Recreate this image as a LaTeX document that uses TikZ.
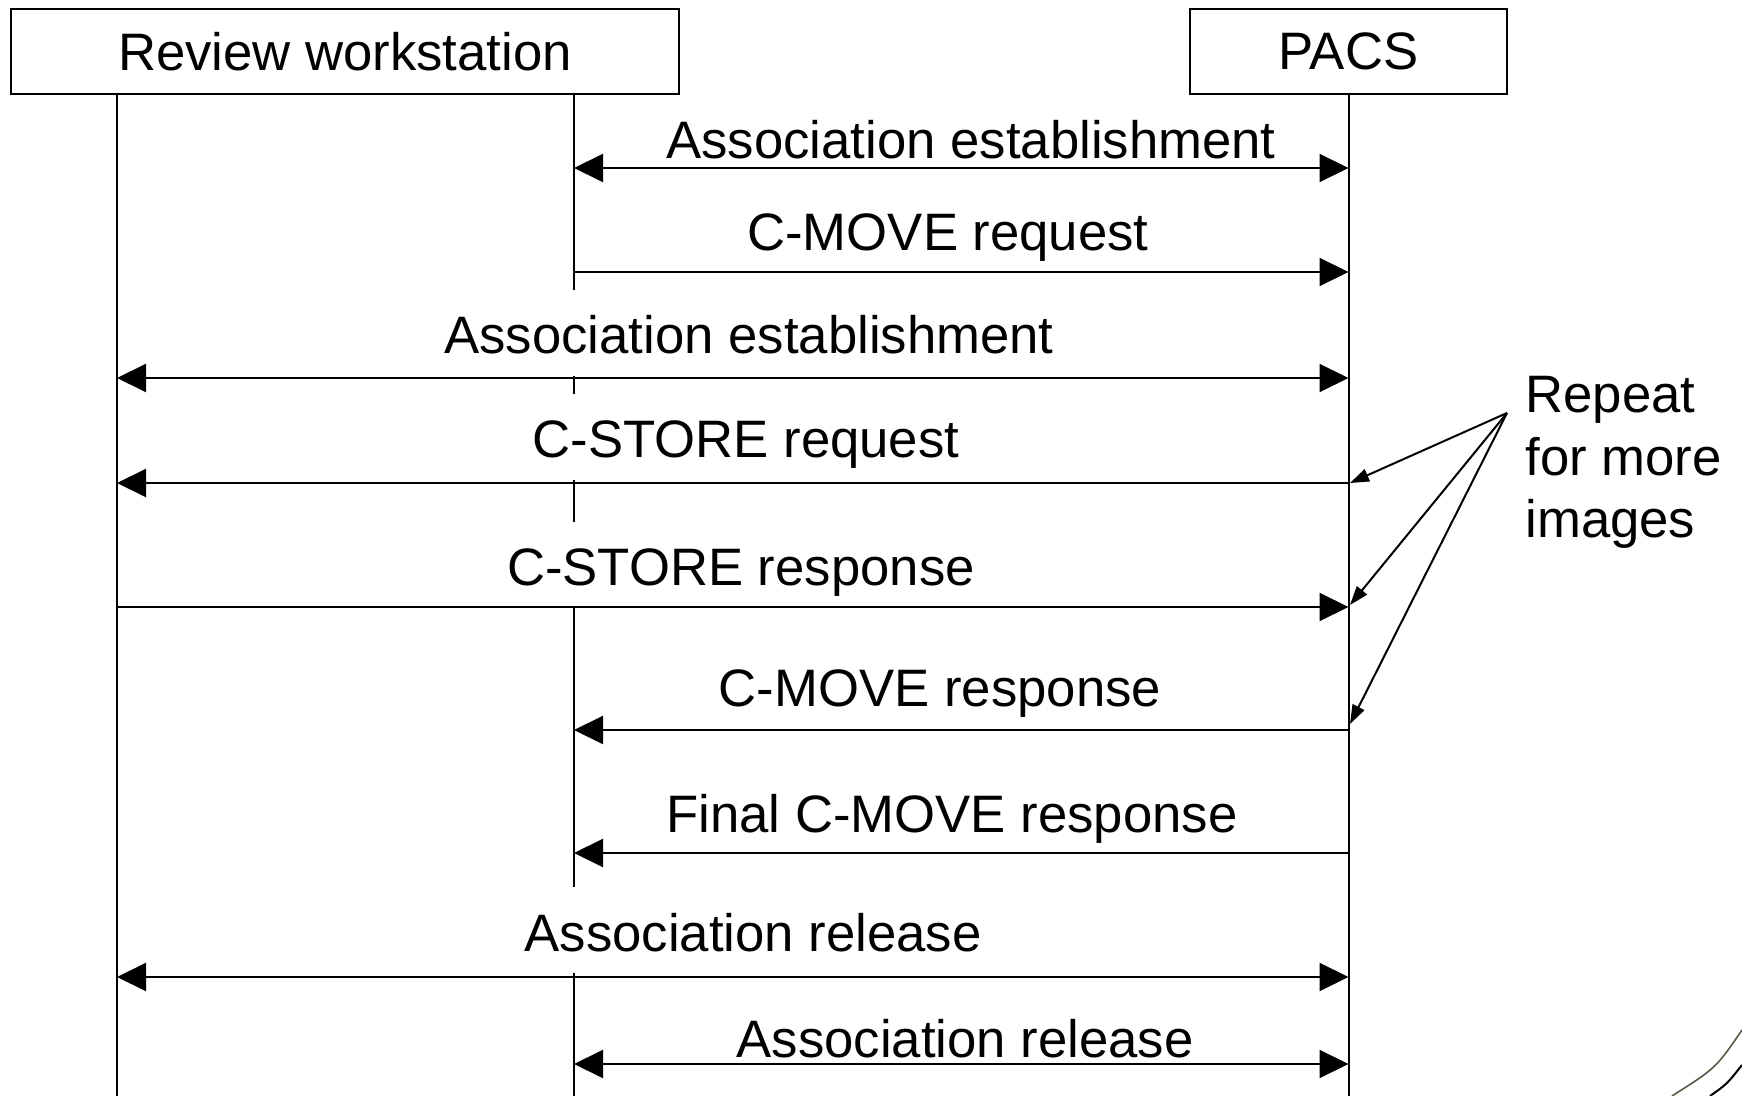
\documentclass[tikz,border=0pt]{standalone}
\usepackage{fontspec}
\setmainfont{Liberation Sans}
\usetikzlibrary{arrows.meta}
\definecolor{curvegray}{HTML}{5C5646}
\begin{document}
\begin{tikzpicture}[x=0.5pt,y=-0.5pt,
  every node/.style={font=\fontsize{26.35pt}{31.25pt}\selectfont},
  actor/.style={draw, line width=1pt, inner sep=0pt, minimum height=42.5pt},
  life/.style={line width=1pt},
  msg/.style={line width=1pt, -{Triangle[length=14.5pt,width=14pt]}},
  dmsg/.style={line width=1pt, {Triangle[length=14.5pt,width=14pt]}-{Triangle[length=14.5pt,width=14pt]}},
  lbl/.style={anchor=base, inner sep=0pt, text height=32pt, text depth=11pt},
  cover/.style={lbl, fill=white},
  note/.style={anchor=base west, inner sep=0pt},
  notearrow/.style={line width=1pt, -{Triangle[length=9.5pt,width=6.5pt]}}
]
\useasboundingbox (0,0) rectangle (1742,1096);

% actors
\node[actor, minimum width=334pt] (rw) at (345,51.5) {Review workstation};
\node[actor, minimum width=158.5pt] (pacs) at (1348.5,51.5) {PACS};

% lifeline ends
\coordinate (a0) at (117,94);    \coordinate (a1) at (117,1096);
\coordinate (b0) at (574,94);    \coordinate (b1) at (574,1096);
\coordinate (c0) at (1348.5,94); \coordinate (c1) at (1348.5,1096);
\draw[life] (a0) -- (a1);
\draw[life] (b0) -- (b1);
\draw[life] (c0) -- (c1);

% message end points
\coordinate (m1b) at (574,168);  \coordinate (m1c) at (1348.5,168);
\coordinate (m2b) at (574,272);  \coordinate (m2c) at (1348.5,272);
\coordinate (m3a) at (117,378);  \coordinate (m3c) at (1348.5,378);
\coordinate (m4a) at (117,483);  \coordinate (m4c) at (1348.5,483);
\coordinate (m5a) at (117,607);  \coordinate (m5c) at (1348.5,607);
\coordinate (m6b) at (574,730);  \coordinate (m6c) at (1348.5,730);
\coordinate (m7b) at (574,853);  \coordinate (m7c) at (1348.5,853);
\coordinate (m8a) at (117,977);  \coordinate (m8c) at (1348.5,977);
\coordinate (m9b) at (574,1064); \coordinate (m9c) at (1348.5,1064);

% labels
\node[lbl]   (t1) at (971,159)  {Association establishment};
\node[lbl]   (t2) at (948,251)  {C-MOVE request};
\node[cover] (t3) at (749,354)  {Association establishment};
\node[cover] (t4) at (746,458)  {C-STORE request};
\node[cover] (t5) at (741,586)  {C-STORE response};
\node[lbl]   (t6) at (940,706)  {C-MOVE response};
\node[lbl]   (t7) at (952,832)  {Final C-MOVE response};
\node[cover] (t8) at (753,951)  {Association release};
\node[lbl]   (t9) at (965,1057) {Association release};

% messages
\draw[dmsg] (m1b) -- (m1c);
\draw[msg]  (m2b) -- (m2c);
\draw[dmsg] (m3a) -- (m3c);
\draw[msg]  (m4c) -- (m4a);
\draw[msg]  (m5a) -- (m5c);
\draw[msg]  (m6c) -- (m6b);
\draw[msg]  (m7c) -- (m7b);
\draw[dmsg] (m8a) -- (m8c);
\draw[dmsg] (m9b) -- (m9c);

% note
\node[note] (n1) at (1525,413) {Repeat};
\node[note] (n2) at (1525,476) {for more};
\node[note] (n3) at (1525,538) {images};
\coordinate (rep) at (1507,413);
\coordinate (r1) at (1350,483);
\coordinate (r2) at (1350,605);
\coordinate (r3) at (1350,724);
\draw[notearrow] (rep) -- (r1);
\draw[notearrow] (rep) -- (r2);
\draw[notearrow] (rep) -- (r3);

% corner curves
\draw[line width=0.8pt, draw=curvegray] (1742,1030) .. controls (1716,1068) .. (1672,1096);
\draw[line width=1pt] (1742,1065) .. controls (1727,1084) .. (1710,1096);
\end{tikzpicture}
\end{document}
